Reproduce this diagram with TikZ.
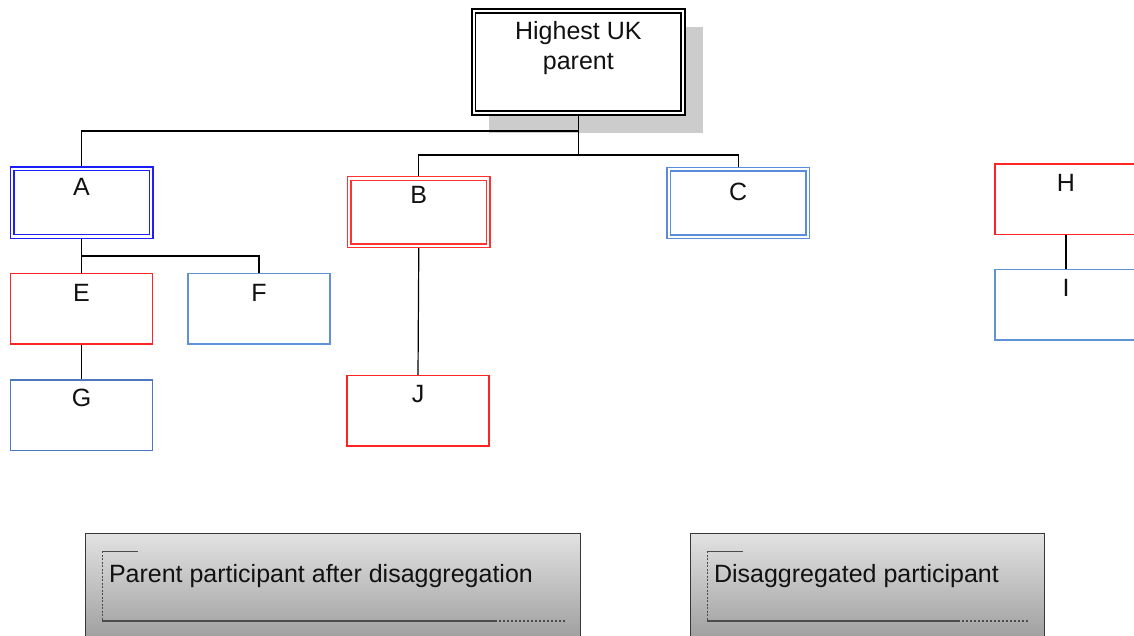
\documentclass[tikz,border=0pt]{standalone}
\usepackage{fontspec}
\setmainfont{Liberation Sans}
\usetikzlibrary{backgrounds}

\definecolor{ablue}{RGB}{30,30,250}
\definecolor{bred}{RGB}{255,50,50}
\definecolor{cblue}{RGB}{90,140,220}
\definecolor{ered}{RGB}{255,35,35}
\definecolor{fblue}{RGB}{95,145,215}
\definecolor{gblue}{RGB}{75,120,190}
\definecolor{shadowgray}{RGB}{204,204,204}
\definecolor{legtop}{RGB}{226,226,226}
\definecolor{legbot}{RGB}{145,145,145}
\definecolor{legedge}{RGB}{55,55,55}
\definecolor{legmark}{RGB}{75,75,75}
\definecolor{inktext}{RGB}{17,17,17}

\tikzset{
  every node/.style={font=\fontsize{25}{30}\selectfont, text=inktext,
    inner sep=0pt, outer sep=0pt, anchor=north west},
  txt/.style 2 args={text height=#1, text depth=#2},
  dblbox/.style={draw=#1, double=white, double distance=2.3pt, line width=1.35pt,
    fill=white, minimum width=139pt, minimum height=67.5pt},
  sglbox/.style={draw=#1, line width=1.4pt, fill=white,
    minimum width=142pt, minimum height=70.5pt},
  topbox/.style={draw=black, double=white, double distance=2.4pt, line width=1.5pt,
    fill=white, minimum width=209.3pt, minimum height=102pt},
  legendbox/.style={draw=legedge, line width=1.5pt, top color=legtop,
    bottom color=legbot, inner xsep=23.5pt, minimum height=127pt},
  conn/.style={draw=black, line width=1.2pt},
  legsolid/.style={draw=legmark, line width=1pt},
  legdash/.style={draw=legmark, line width=1pt, dash pattern=on 2pt off 1.5pt},
  legbase/.style={draw=legmark, line width=1.6pt},
  legdot/.style={draw=legmark, line width=1.2pt, dash pattern=on 2pt off 2pt},
}

\begin{document}
\begin{tikzpicture}[x=1pt, y=-1pt]
\path[use as bounding box] (0,0) rectangle (1134,636);
\clip (0,0) rectangle (1134,636);

% ownership tree
\node[topbox, txt={29pt}{73pt}] (top) at (473.7,11)
  {\parbox[t]{200pt}{\centering Highest UK\\parent}};

\node[dblbox=ablue, txt={27pt}{40.5pt}] (A) at (12,169) {A};
\node[dblbox=bred,  txt={25.5pt}{42pt}] (B) at (349.3,178.5) {B};
\node[dblbox=cblue, txt={31.4pt}{36.1pt}] (C) at (668.7,169.3) {C};

\node[sglbox=ered,  txt={28.2pt}{42.3pt}] (E) at (10.5,273.5) {E};
\node[sglbox=fblue, txt={28.2pt}{42.3pt}] (F) at (187.9,273.5) {F};
\node[sglbox=gblue, txt={26.5pt}{44pt}] (G) at (10.5,380) {G};
\node[sglbox=ered,  txt={27.5pt}{43pt}] (J) at (347,375.3) {J};

\node[sglbox=ered,  txt={27.7pt}{42.8pt}] (H) at (995,164) {H};
\node[sglbox=fblue, txt={27.2pt}{43.3pt}] (I) at (995,269.5) {I};

% branch points
\coordinate (j1) at (top.south |- 0,131);
\coordinate (j2) at (top.south |- 0,155);
\coordinate (j3) at (A.south |- 0,256);

\begin{scope}[on background layer]
  \fill[white] (0,0) rectangle (1134,636);
  \fill[shadowgray] ([shift={(15.3,16)}]top.north west) rectangle ([shift={(20,20)}]top.south east);
  \draw[conn] (top.south) -- (j2);
  \draw[conn] (j1) -| (A.north);
  \draw[conn] (j2) -| (B.north);
  \draw[conn] (j2) -| (C.north);
  \draw[conn] (A.south) -- (E.north);
  \draw[conn] (j3) -| (F.north);
  \draw[conn] (E.south) -- (G.north);
  \draw[conn] (B.south) -- (J.north);
  \draw[conn] (H.south) -- (I.north);
\end{scope}

% legend
\node[legendbox, minimum width=495pt, txt={49.2pt}{77.8pt}] (L1) at (85.5,533.5)
  {\makebox[448pt][l]{Parent participant after disaggregation}};
\node[legendbox, minimum width=354pt, txt={49.2pt}{77.8pt}] (L2) at (690.5,533.5)
  {\makebox[307pt][l]{Disaggregated participant}};

\draw[legsolid] ([shift={(16.5,17.5)}]L1.north west) coordinate (l1a) -- ++(36,0);
\draw[legdash] (l1a) -- ++(0,70) coordinate (l1b);
\draw[legbase] (l1b) -- ++(393,0) coordinate (l1c);
\draw[legdot] (l1c) -- ++(70,0);

\draw[legsolid] ([shift={(16.5,17.5)}]L2.north west) coordinate (l2a) -- ++(36,0);
\draw[legdash] (l2a) -- ++(0,70) coordinate (l2b);
\draw[legbase] (l2b) -- ++(251,0) coordinate (l2c);
\draw[legdot] (l2c) -- ++(70,0);
\end{tikzpicture}
\end{document}
